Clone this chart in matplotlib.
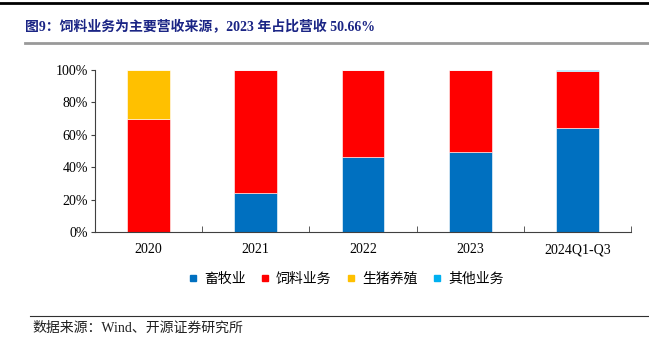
import matplotlib
matplotlib.use('Agg')
import matplotlib.pyplot as plt
from matplotlib.lines import Line2D
from matplotlib.ticker import FuncFormatter, FixedLocator
import numpy as np

plt.rcParams['font.family'] = ['Liberation Serif', 'Noto Sans CJK SC', 'DejaVu Sans']

categories = ['2020', '2021', '2022', '2023', '2024Q1-Q3']
livestock = [0, 24, 46, 49.34, 63.9]
feed = [70, 76, 54, 50.66, 35.6]
hog = [30, 0, 0, 0, 0]
other = [0, 0, 0, 0, 0.5]
series_names = ['畜牧业', '饲料业务', '生猪养殖', '其他业务']
colors = ['#0070C0', '#FF0000', '#FFC000', '#00B0F0']

fig = plt.figure(figsize=(6.49, 3.49), dpi=100)
ax = fig.add_axes([95 / 649, 1 - 232 / 349, 536 / 649, 162 / 349])

x = np.arange(len(categories))
bottom = np.zeros(len(categories))
for vals, name, c in zip([livestock, feed, hog, other], series_names, colors):
    ax.bar(x, vals, width=0.4, bottom=bottom, color=c, label=name,
           edgecolor='white', linewidth=0.4)
    bottom += np.array(vals)

ax.set_xlim(-0.5, len(categories) - 0.5)
ax.set_ylim(0, 100)
ax.set_yticks(np.arange(0, 101, 20))
ax.yaxis.set_major_formatter(FuncFormatter(lambda v, p: '{:.0f}%'.format(v)))
ax.set_xticks(x)
ax.set_xticklabels(categories)
ax.xaxis.set_minor_locator(FixedLocator(np.arange(0.5, len(categories), 1.0)))
ax.tick_params(axis='x', which='major', length=0, labelsize=10, pad=8)
ax.tick_params(axis='x', which='minor', direction='in', length=4, color='#404040')
ax.tick_params(axis='y', direction='out', length=3, labelsize=10, color='#404040', pad=2)
for s in ['top', 'right']:
    ax.spines[s].set_visible(False)
for s in ['left', 'bottom']:
    ax.spines[s].set_color('#404040')
    ax.spines[s].set_linewidth(0.8)

handles = [plt.Line2D([], [], marker='s', linestyle='', markersize=5,
                      color=c) for c in colors]
fig.legend(handles, series_names, loc='center', bbox_to_anchor=(346 / 649, 1 - 279 / 349),
           ncol=4, frameon=False, handlelength=0.6, handletextpad=0.5, columnspacing=1.1,
           prop={'family': ['Noto Sans CJK SC'], 'size': 10})

fig.text(25 / 649, 1 - 27 / 349, '图9：饲料业务为主要营收来源，2023 年占比营收 50.66%',
         fontsize=10, fontweight='bold', color='#1B2585', va='center', ha='left')
fig.text(32 / 649, 1 - 328 / 349, '数据来源：Wind、开源证券研究所',
         fontsize=10, color='#202020', va='center', ha='left')

fig.add_artist(Line2D([0, 1], [1 - 3 / 349, 1 - 3 / 349], color='black', linewidth=2,
                      transform=fig.transFigure))
fig.add_artist(Line2D([25 / 649, 1], [1 - 43 / 349, 1 - 43 / 349], color='#999999', linewidth=2,
                      transform=fig.transFigure))
fig.add_artist(Line2D([30 / 649, 1], [1 - 316 / 349, 1 - 316 / 349], color='#303030', linewidth=0.8,
                      transform=fig.transFigure))

fig.savefig('out.png', dpi=100)
